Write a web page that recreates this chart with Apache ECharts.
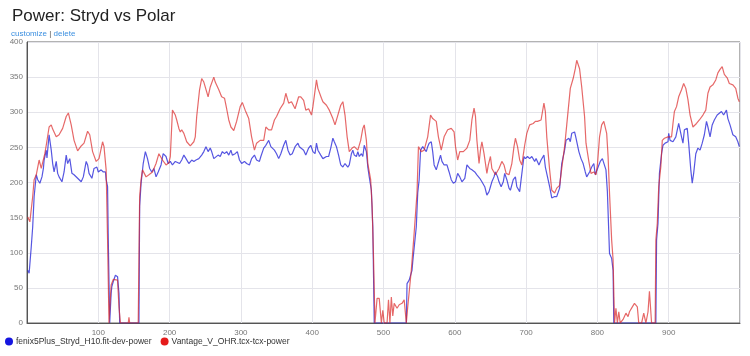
<!DOCTYPE html>
<html>
<head>
<meta charset="utf-8">
<script src="https://cdn.jsdelivr.net/npm/echarts@6/dist/echarts.min.js"></script>
<style>html,body{margin:0;padding:0;background:#fff}#c{width:750px;height:356px}</style>
</head>
<body>
<div id="c"></div>
<script>
var titleText = 'Power: Stryd vs Polar';
var seriesNames = ['fenix5Plus_Stryd_H10.fit-dev-power', 'Vantage_V_OHR.tcx-tcx-power'];
var yTicks = [0, 50, 100, 150, 200, 250, 300, 350, 400];
var xTicks = [100, 200, 300, 400, 500, 600, 700, 800, 900];

var stydX = [1,3,6,8,10,13,15,18,21,23,24,27,28,31,34,36,38,41,43,45,49,52,55,57,60,63,66,71,76,79,83,85,87,91,94,98,100,104,107,110,111,113,114,116,118,119,121,124,127,129,130,157,158,160,163,166,169,172,175,178,181,184,188,191,195,198,201,204,208,210,214,217,220,223,227,231,234,237,241,245,248,251,254,257,259,262,264,268,271,274,277,280,283,286,288,292,295,298,301,305,308,312,315,319,322,326,328,332,335,339,342,344,347,350,353,356,360,363,366,369,372,376,380,382,384,388,391,395,398,401,404,406,408,412,415,417,420,423,426,429,431,434,437,440,443,446,450,452,455,457,459,462,464,466,469,471,473,476,478,480,483,485,487,532,533,536,540,541,543,546,548,550,552,555,557,560,562,564,567,569,571,574,576,578,580,582,585,589,592,595,598,601,604,607,610,614,617,621,624,628,631,635,638,642,645,648,650,652,655,657,660,662,665,668,670,673,676,678,682,685,687,691,693,697,699,702,705,708,712,714,718,721,725,727,730,733,736,740,743,747,750,754,756,760,762,764,768,770,774,777,780,783,785,789,792,795,797,799,801,804,807,809,812,814,816,817,820,822,823,882,883,885,887,890,892,895,899,900,902,906,910,914,918,920,922,926,928,931,933,935,938,941,944,947,950,953,955,958,961,964,968,970,974,977,981,983,986,990,994,997,999];
var stydY = [75,71,109,137,180,211,204,199,208,220,232,246,235,268,246,227,215,230,213,208,201,215,239,227,234,213,211,206,201,208,230,225,213,206,220,222,215,218,215,215,204,194,118,0,42,52,59,68,66,42,0,0,166,199,227,244,234,220,215,220,208,215,225,241,237,227,230,225,230,232,227,232,239,234,227,232,230,232,234,239,244,251,244,249,244,234,232,239,237,244,241,244,239,246,239,241,244,232,227,230,227,225,234,239,232,230,237,249,253,260,251,253,246,241,234,241,253,260,246,239,241,251,256,251,253,246,239,249,253,244,241,256,246,239,234,232,237,237,249,263,258,251,239,225,222,227,222,225,241,246,239,237,244,237,241,237,253,244,222,208,189,137,0,0,56,61,75,87,87,137,185,204,246,251,253,244,251,256,258,244,225,218,225,232,239,230,225,225,215,204,199,201,213,208,201,206,225,220,218,215,211,206,201,194,182,187,194,201,208,215,208,201,194,201,213,204,192,189,204,208,194,187,204,237,234,237,234,237,230,234,225,232,239,222,208,194,178,180,180,192,227,246,260,263,258,270,272,263,244,234,227,215,208,215,222,227,211,213,222,230,234,232,218,187,189,99,92,75,0,0,118,142,213,241,253,256,258,270,260,258,265,284,265,256,275,277,256,218,199,213,241,249,246,256,268,287,279,265,282,289,296,294,301,296,303,291,282,268,265,258,251];

var vantX = [1,4,8,10,13,17,20,22,25,27,31,34,36,41,45,50,55,58,62,66,71,76,80,85,88,92,97,101,106,108,111,113,115,116,118,121,127,129,131,142,143,144,156,158,160,162,167,171,176,178,181,185,190,195,199,201,204,208,210,213,215,217,220,224,229,234,236,238,242,245,248,252,254,257,262,264,269,273,277,280,283,286,290,294,299,302,306,311,315,319,322,327,332,335,339,343,347,350,355,360,363,367,371,376,381,384,388,391,395,399,401,406,408,413,415,420,424,429,432,436,440,443,446,449,452,456,459,464,468,471,473,476,478,482,484,486,488,491,494,497,499,501,505,507,509,511,513,515,519,522,526,529,532,534,539,543,547,549,553,557,562,566,569,574,577,581,585,590,595,599,601,604,607,612,617,621,624,627,629,631,634,636,638,641,645,647,650,652,657,662,666,669,672,676,680,683,685,688,691,694,698,701,705,710,713,716,721,725,727,729,733,736,740,743,747,750,754,757,762,766,769,771,775,778,782,784,788,791,795,798,800,803,806,809,813,815,817,820,822,824,826,828,830,832,836,840,843,845,849,852,856,858,862,865,868,871,873,876,881,882,884,886,889,891,894,899,904,906,908,911,914,918,921,924,927,930,934,939,943,948,952,955,958,962,966,969,972,975,978,982,985,990,994,997,999];
var vantY = [151,144,180,204,211,232,220,220,241,253,279,282,276,265,268,277,294,299,282,260,245,252,256,273,268,244,230,234,258,251,218,118,0,0,54,62,61,23,0,0,8,0,0,180,204,218,208,211,215,215,227,241,232,225,228,237,303,296,289,277,272,275,270,258,252,258,265,294,332,348,343,329,322,336,350,343,332,322,320,305,289,279,274,287,308,314,303,291,265,246,256,260,260,279,275,275,289,294,305,313,327,313,315,305,322,322,317,303,305,296,308,346,334,320,315,310,303,291,282,296,310,315,296,265,244,249,251,246,260,277,282,260,227,204,166,94,0,35,35,0,18,0,0,33,0,37,10,28,21,26,28,33,0,23,75,128,185,251,244,246,265,296,291,287,265,246,265,275,277,272,251,232,244,244,249,260,289,306,294,260,227,246,258,241,213,225,237,220,211,220,230,225,213,211,227,251,263,251,232,225,253,270,282,284,287,287,289,313,301,265,218,189,185,192,196,220,251,282,334,348,362,374,362,336,294,256,230,213,215,211,225,265,282,287,270,237,185,118,90,0,21,0,16,0,5,14,9,16,23,28,23,0,0,14,0,16,45,0,0,118,142,194,223,260,263,265,265,284,301,308,322,332,341,334,318,296,279,284,289,296,303,327,336,339,346,356,361,365,354,349,341,339,334,320,315];

function pairs(xs, ys) { return xs.map(function (x, i) { return [x, ys[i]]; }); }

var font = 'Liberation Sans, Arial, Helvetica, sans-serif';
var chart = echarts.init(document.getElementById('c'), null, { renderer: 'canvas' });
chart.setOption({
  animation: false,
  backgroundColor: '#ffffff',
  textStyle: { fontFamily: font },
  title: [
    { text: titleText, left: 7, top: 3, textStyle: { fontSize: 17, fontWeight: 'normal', color: '#222', fontFamily: font } },
    { text: '{a|customize }{b||}{a| delete}', left: 6, top: 25,
      textStyle: { fontFamily: font, fontSize: 8, fontWeight: 'normal',
        rich: { a: { fontSize: 8, fontWeight: 'normal', color: '#3b8fe0', fontFamily: font },
                b: { fontSize: 8, fontWeight: 'normal', color: '#555', fontFamily: font } } } }
  ],
  legend: {
    left: 0, bottom: 5, icon: 'circle', itemWidth: 8, itemHeight: 8, itemGap: 9,
    textStyle: { fontSize: 8.5, color: '#333', fontFamily: font, padding: [0, 0, 0, -2] },
    data: seriesNames
  },
  grid: { left: 27, right: 10, top: 42, bottom: 33, show: true, borderColor: '#666', borderWidth: 1, backgroundColor: 'transparent' },
  xAxis: {
    type: 'value', min: 0, max: 1000, interval: 100,
    axisLine: { show: true, lineStyle: { color: '#555' } },
    axisTick: { show: false },
    axisLabel: { fontSize: 8, color: '#777', margin: 6, showMinLabel: false, showMaxLabel: false,
      formatter: function (v) { return xTicks.indexOf(v) >= 0 ? String(v) : ''; } },
    splitLine: { show: true, lineStyle: { color: '#e4e4ea', width: 1 } }
  },
  yAxis: {
    type: 'value', min: 0, max: 400, interval: 50,
    axisLine: { show: true, lineStyle: { color: '#555' } },
    axisTick: { show: false },
    axisLabel: { fontSize: 8, color: '#777', margin: 4,
      formatter: function (v) { return yTicks.indexOf(v) >= 0 ? String(v) : ''; } },
    splitLine: { show: true, lineStyle: { color: '#e4e4ea', width: 1 } }
  },
  series: [
    { name: seriesNames[0], type: 'line', showSymbol: false, symbol: 'circle', data: pairs(stydX, stydY),
      itemStyle: { color: '#1515e0' }, lineStyle: { color: 'rgba(30,30,215,0.75)', width: 1.2 } },
    { name: seriesNames[1], type: 'line', showSymbol: false, symbol: 'circle', data: pairs(vantX, vantY),
      itemStyle: { color: '#e51b1b' }, lineStyle: { color: 'rgba(220,40,40,0.7)', width: 1.2 } }
  ]
});
</script>
</body>
</html>
